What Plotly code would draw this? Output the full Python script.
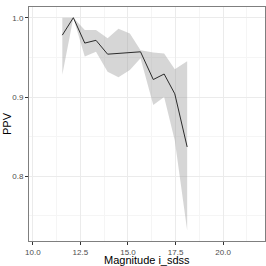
import plotly.graph_objects as go

mag = [11.55, 12.13, 12.73, 13.32, 13.93, 14.5, 15.1, 15.66, 16.33, 16.9, 17.46, 18.11]
ppv = [0.978, 1.0, 0.968, 0.9715, 0.954, 0.955, 0.956, 0.957, 0.922, 0.929, 0.904, 0.837]
upper = [1.0, 1.0, 0.9845, 0.9845, 0.974, 0.986, 0.980, 0.959, 0.956, 0.955, 0.935, 0.945]
lower = [0.928, 1.0, 0.951, 0.957, 0.932, 0.925, 0.934, 0.949, 0.89, 0.90, 0.845, 0.732]

x_ticks = [10.0, 12.5, 15.0, 17.5, 20.0]
x_tick_labels = ["10.0", "12.5", "15.0", "17.5", "20.0"]
y_ticks = [0.8, 0.9, 1.0]
y_tick_labels = ["0.8", "0.9", "1.0"]

fig = go.Figure()
fig.add_trace(go.Scatter(
    x=mag + mag[::-1], y=upper + lower[::-1], fill="toself",
    fillcolor="rgba(153,153,153,0.4)", line=dict(width=0), mode="lines",
    hoverinfo="skip", showlegend=False))
fig.add_trace(go.Scatter(
    x=mag, y=ppv, mode="lines", line=dict(color="#2b2b2b", width=1),
    showlegend=False))

axis_common = dict(
    showgrid=True, gridcolor="#ebebeb", gridwidth=1,
    minor=dict(showgrid=True, gridcolor="#f5f5f5", gridwidth=0.5),
    zeroline=False, showline=True, mirror=True, linecolor="#7f7f7f", linewidth=1,
    ticks="outside", ticklen=3, tickcolor="#333333", tickwidth=1,
    tickfont=dict(family="Liberation Sans, Arial", size=8, color="#4d4d4d"),
    automargin=False,
)

fig.update_xaxes(
    range=[9.8, 22.2], tickvals=x_ticks, ticktext=x_tick_labels,
    minor_dtick=1.25, minor_tick0=10, **axis_common)
fig.update_yaxes(
    range=[0.7184, 1.0135], tickvals=y_ticks, ticktext=y_tick_labels,
    minor_dtick=0.05, minor_tick0=0.75, **axis_common)

title_font = dict(family="Liberation Sans, Arial", size=11, color="black")
fig.add_annotation(text="Magnitude i_sdss", xref="paper", yref="paper",
                   x=0.5, y=0, yshift=-18.5, xanchor="center", yanchor="middle",
                   borderpad=0, showarrow=False, font=title_font)
fig.add_annotation(text="PPV", xref="paper", yref="paper", textangle=-90,
                   x=0, y=0.5, xshift=-22, xanchor="center", yanchor="middle",
                   borderpad=0, showarrow=False, font=title_font)

fig.update_layout(
    width=266, height=266, plot_bgcolor="white", paper_bgcolor="white",
    margin=dict(l=29, r=1, t=7, b=25),
)

fig.write_html("out.html", config={"displayModeBar": False},
               post_script="document.body.style.margin='0';document.body.style.padding='0';")
